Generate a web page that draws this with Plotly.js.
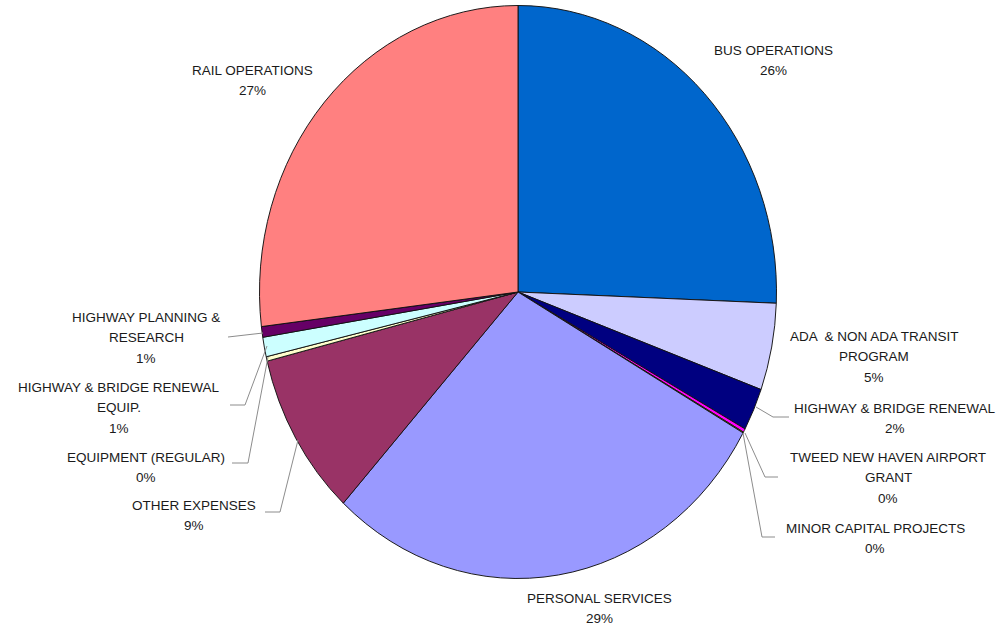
<!DOCTYPE html>
<html>
<head>
<meta charset="utf-8">
<script src="https://cdn.plot.ly/plotly-3.0.1.min.js"></script>
<style>
html, body { margin: 0; padding: 0; background: #fff; }
#chart { width: 1008px; height: 626px; }
</style>
</head>
<body>
<div id="chart"></div>
<script>
// ---- data ----
var categories = [
  'BUS OPERATIONS',
  'ADA  & NON ADA TRANSIT PROGRAM',
  'HIGHWAY & BRIDGE RENEWAL',
  'TWEED NEW HAVEN AIRPORT GRANT',
  'MINOR CAPITAL PROJECTS',
  'PERSONAL SERVICES',
  'OTHER EXPENSES',
  'EQUIPMENT (REGULAR)',
  'HIGHWAY & BRIDGE RENEWAL EQUIP.',
  'HIGHWAY PLANNING & RESEARCH',
  'RAIL OPERATIONS'
];
var shares = [25.6, 4.9, 2.4, 0.2, 0.05, 28.6, 9.3, 0.25, 1.1, 0.6, 26.9];
var labelLines = [
  ['BUS OPERATIONS'],
  ['ADA  & NON ADA TRANSIT', 'PROGRAM'],
  ['HIGHWAY & BRIDGE RENEWAL'],
  ['TWEED NEW HAVEN AIRPORT', 'GRANT'],
  ['MINOR CAPITAL PROJECTS'],
  ['PERSONAL SERVICES'],
  ['OTHER EXPENSES'],
  ['EQUIPMENT (REGULAR)'],
  ['HIGHWAY & BRIDGE RENEWAL', 'EQUIP.'],
  ['HIGHWAY PLANNING &', 'RESEARCH'],
  ['RAIL OPERATIONS']
];
var sliceColors = ['#0066CC', '#CCCCFF', '#000080', '#FF00FF', '#FFFF00',
                   '#9999FF', '#993366', '#FFFFCC', '#CCFFFF', '#660066', '#FF8080'];

// ---- layout helpers (positions in page pixels) ----
var W = 1008, H = 626;
function px(x) { return x / W; }
function py(y) { return 1 - y / H; }

var cx = 518, cy = 292, rx = 258.5, ry = 286.5;

// label block: centre x, centre y of first line
var labelPos = [
  [773, 50], [874, 336], [895, 408], [888, 457], [875, 528], [599, 598],
  [194, 505], [146, 457], [119, 387], [146, 317], [252, 70]
];
var linePitch = 20.6;

// leader lines (polyline points in pixels)
var leaders = [
  [[228, 337], [263, 333]],
  [[230, 405], [245, 405], [267, 346]],
  [[232, 463], [248, 463], [268, 357]],
  [[265, 512], [280, 512], [298, 440]],
  [[756, 407], [773, 417], [789, 417]],
  [[745, 433], [765, 477], [778, 477]],
  [[743, 433], [762, 537], [775, 537]]
];

var total = shares.reduce(function (a, b) { return a + b; }, 0);

var annotations = [];
categories.forEach(function (c, i) {
  var lines = labelLines[i].concat([Math.round(shares[i] / total * 100) + '%']);
  lines.forEach(function (t, j) {
    annotations.push({
      xref: 'paper', yref: 'paper',
      x: px(labelPos[i][0]), y: py(labelPos[i][1] + j * linePitch),
      xanchor: 'center', yanchor: 'middle',
      text: t, showarrow: false,
      font: { family: 'Liberation Sans, Arial, sans-serif', size: 13.5, color: '#1a1a1a' }
    });
  });
});

var shapes = [];
leaders.forEach(function (pts) {
  var d = 'M' + pts.map(function (p) { return px(p[0]) + ',' + py(p[1]); }).join(' L');
  shapes.push({
    type: 'path', xref: 'paper', yref: 'paper', path: d,
    line: { color: '#8c8c8c', width: 1 }
  });
});

var trace = {
  type: 'pie',
  labels: categories,
  values: shares,
  sort: false,
  direction: 'clockwise',
  rotation: 0,
  textinfo: 'none',
  hoverinfo: 'label+percent',
  marker: { colors: sliceColors, line: { color: '#111', width: 0.9 } },
  domain: { x: [px(cx - rx), px(cx + rx)], y: [py(cy + rx), py(cy - rx)] },
  showlegend: false
};

var layout = {
  width: W, height: H,
  margin: { l: 0, r: 0, t: 0, b: 0 },
  paper_bgcolor: '#ffffff',
  plot_bgcolor: '#ffffff',
  showlegend: false,
  annotations: annotations,
  shapes: shapes,
  xaxis: { visible: false }, yaxis: { visible: false }
};

Plotly.newPlot('chart', [trace], layout, { displayModeBar: false, staticPlot: true }).then(function () {
  // the reference pie is slightly taller than wide: stretch the pie layer vertically
  var pl = document.querySelector('#chart .pielayer');
  if (pl) {
    pl.setAttribute('transform', 'translate(0,' + cy + ') scale(1,' + (ry / rx) + ') translate(0,' + (-cy) + ')');
  }
});
</script>
</body>
</html>
